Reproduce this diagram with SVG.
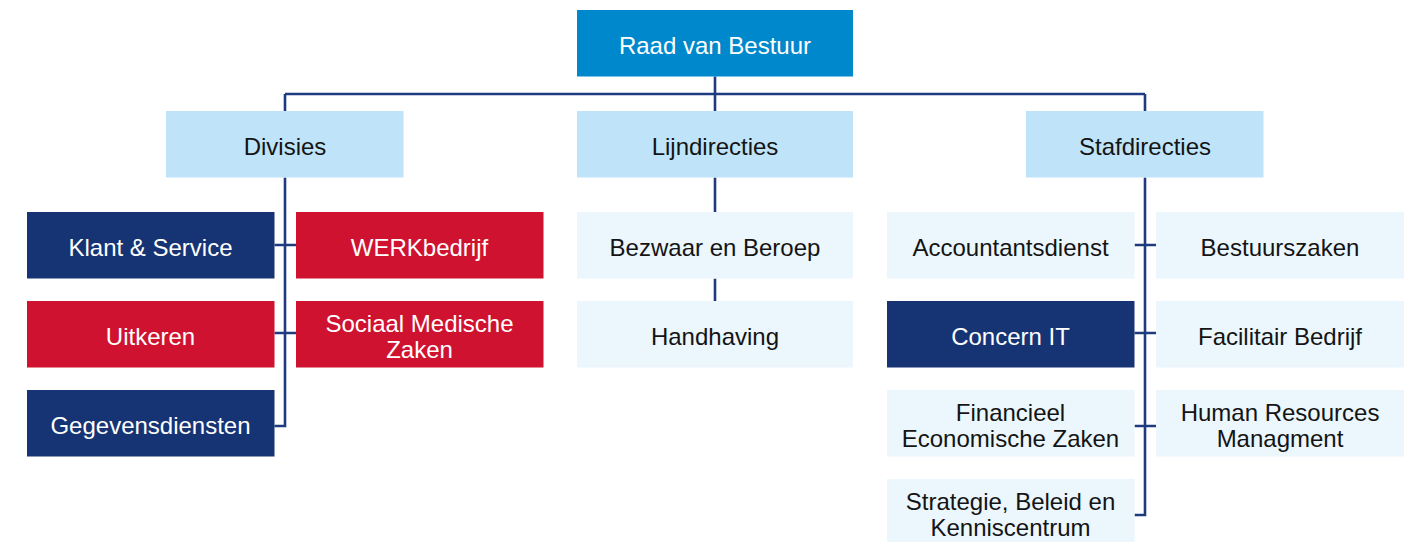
<svg xmlns="http://www.w3.org/2000/svg" width="1413" height="542" viewBox="0 0 1413 542">
<style>
text{font-family:"Liberation Sans",Arial,sans-serif;font-size:24px;text-anchor:middle}
.top{fill:#0088cc}
.hd{fill:#bfe4f9}
.lt{fill:#ebf6fd}
.nv{fill:#163473}
.rd{fill:#cf1230}
.w{fill:#ffffff}
.k{fill:#141414}
.con{fill:none;stroke:#1e3a80;stroke-width:2.6}
</style>
<rect width="1413" height="542" fill="#ffffff"/>
<g id="connectors" class="con">
<path d="M715,76.5V111M285,94H1145M285,94V111M1145,94V111"/>
<path d="M285,177.5V426H274.5M274.5,245H296M274.5,333H296"/>
<path d="M715,177.5V212M715,278.5V301"/>
<path d="M1145,177.5V515H1134.5M1134.5,245H1156M1134.5,333H1156M1134.5,426H1156"/>
</g>
<g id="raad"><rect class="top" x="577" y="10" width="276" height="66.5"/><text class="w" x="715" y="54">Raad van Bestuur</text></g>
<g id="divisies"><rect class="hd" x="166" y="111" width="237.5" height="66.5"/><text class="k" x="285" y="155">Divisies</text></g>
<g id="lijndirecties"><rect class="hd" x="577" y="111" width="276" height="66.5"/><text class="k" x="715" y="155">Lijndirecties</text></g>
<g id="stafdirecties"><rect class="hd" x="1026" y="111" width="237.5" height="66.5"/><text class="k" x="1145" y="155">Stafdirecties</text></g>
<g id="klant"><rect class="nv" x="27" y="212" width="247.5" height="66.5"/><text class="w" x="150.5" y="256">Klant &amp; Service</text></g>
<g id="werkbedrijf"><rect class="rd" x="296" y="212" width="247.5" height="66.5"/><text class="w" x="419.5" y="256">WERKbedrijf</text></g>
<g id="uitkeren"><rect class="rd" x="27" y="301" width="247.5" height="66.5"/><text class="w" x="150.5" y="345">Uitkeren</text></g>
<g id="smz"><rect class="rd" x="296" y="301" width="247.5" height="66.5"/><text class="w" x="419.5" y="331.5">Sociaal Medische</text><text class="w" x="419.5" y="357.5">Zaken</text></g>
<g id="gegevensdiensten"><rect class="nv" x="27" y="390" width="247.5" height="66.5"/><text class="w" x="150.5" y="434">Gegevensdiensten</text></g>
<g id="bezwaar"><rect class="lt" x="577" y="212" width="276" height="66.5"/><text class="k" x="715" y="256">Bezwaar en Beroep</text></g>
<g id="handhaving"><rect class="lt" x="577" y="301" width="276" height="66.5"/><text class="k" x="715" y="345">Handhaving</text></g>
<g id="accountantsdienst"><rect class="lt" x="887" y="212" width="247.5" height="66.5"/><text class="k" x="1010.5" y="256">Accountantsdienst</text></g>
<g id="bestuurszaken"><rect class="lt" x="1156" y="212" width="248" height="66.5"/><text class="k" x="1280" y="256">Bestuurszaken</text></g>
<g id="concernit"><rect class="nv" x="887" y="301" width="247.5" height="66.5"/><text class="w" x="1010.5" y="345">Concern IT</text></g>
<g id="facilitair"><rect class="lt" x="1156" y="301" width="248" height="66.5"/><text class="k" x="1280" y="345">Facilitair Bedrijf</text></g>
<g id="fez"><rect class="lt" x="887" y="390" width="247.5" height="66.5"/><text class="k" x="1010.5" y="420.5">Financieel</text><text class="k" x="1010.5" y="446.5">Economische Zaken</text></g>
<g id="hrm"><rect class="lt" x="1156" y="390" width="248" height="66.5"/><text class="k" x="1280" y="420.5">Human Resources</text><text class="k" x="1280" y="446.5">Managment</text></g>
<g id="sbk"><rect class="lt" x="887" y="479" width="247.5" height="66.5"/><text class="k" x="1010.5" y="509.5">Strategie, Beleid en</text><text class="k" x="1010.5" y="535.5">Kenniscentrum</text></g>
</svg>
